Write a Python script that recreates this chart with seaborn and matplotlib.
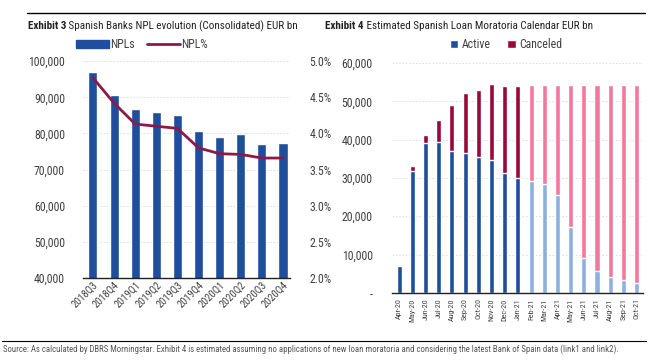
import matplotlib
matplotlib.use("Agg")
import matplotlib.pyplot as plt
import matplotlib.ticker as mticker
from matplotlib.patches import Patch
from matplotlib.lines import Line2D
import seaborn as sns

# ------------------------------------------------------------
# Data
# ------------------------------------------------------------
quarters = ["2018Q3", "2018Q4", "2019Q1", "2019Q2", "2019Q3",
            "2019Q4", "2020Q1", "2020Q2", "2020Q3", "2020Q4"]
npls = [96900, 90600, 86650, 85900, 85000, 80600, 78900, 79800, 77100, 77300]
npl_pct = [4.77, 4.42, 4.13, 4.10, 4.07, 3.80, 3.72, 3.71, 3.66, 3.66]

months = ["Apr-20", "May-20", "Jun-20", "Jul-20", "Aug-20", "Sep-20", "Oct-20",
          "Nov-20", "Dec-20", "Jan-21", "Feb-21", "Mar-21", "Apr-21", "May-21",
          "Jun-21", "Jul-21", "Aug-21", "Sep-21", "Oct-21"]
active = [7050, 31800, 39000, 39300, 37100, 36400, 35500, 34650, 31200, 29900,
          29150, 28400, 25500, 17200, 9150, 5700, 4200, 3250, 2450]
total = [7050, 33000, 41200, 45100, 49000, 52100, 53000, 54500, 54100, 54100,
         54150, 54150, 54150, 54150, 54150, 54150, 54150, 54150, 54150]
n_actual = 10  # Apr-20 .. Jan-21 actual, then estimated

BLUE = "#1F4E9C"
LIGHT_BLUE = "#8EB0E0"
RED = "#98083A"
PINK = "#F4789E"
LINE_RED = "#8B1A4A"
TXT = "#404040"

sns.set_theme(style="white")
plt.rcParams["font.family"] = ["Roboto Condensed", "DejaVu Sans"]

fig = plt.figure(figsize=(6.59, 3.62), dpi=100)

# ------------------------------------------------------------
# Exhibit 3
# ------------------------------------------------------------
ax1 = fig.add_axes([0.126, 0.232, 0.314, 0.599])
sns.barplot(x=quarters, y=npls, color=BLUE, width=0.43, saturation=1, ax=ax1)
ax1.set_ylim(40000, 100000)
ax1.set_xlim(-0.47, 9.33)
ax1.yaxis.set_major_locator(mticker.MultipleLocator(10000))
ax1.yaxis.set_major_formatter(mticker.FuncFormatter(lambda v, p: f"{v:,.0f}"))
ax1.grid(axis="y", color="#D9D9D9", linestyle=(0, (2, 2)), linewidth=0.6)
ax1.set_axisbelow(True)
for s in ["top", "left", "right"]:
    ax1.spines[s].set_visible(False)
ax1.spines["bottom"].set_color("#222222")
ax1.spines["bottom"].set_linewidth(1.0)
ax1.tick_params(axis="y", labelsize=8.5, colors=TXT, length=0, pad=13)
ax1.tick_params(axis="x", labelsize=7.5, colors=TXT, length=0, pad=1)
plt.setp(ax1.get_xticklabels(), rotation=45, ha="right", rotation_mode="anchor")

ax1b = ax1.twinx()
sns.lineplot(x=list(range(len(quarters))), y=npl_pct, color=LINE_RED, linewidth=2, ax=ax1b)
ax1b.set_ylim(2.0, 5.0)
ax1b.yaxis.set_major_locator(mticker.MultipleLocator(0.5))
ax1b.yaxis.set_major_formatter(mticker.FuncFormatter(lambda v, p: f"{v:.1f}%"))
for s in ["top", "left", "right", "bottom"]:
    ax1b.spines[s].set_visible(False)
ax1b.tick_params(axis="y", labelsize=8.5, colors=TXT, length=0, pad=14)
ax1b.set_ylabel("")

h1 = [Patch(facecolor=BLUE, edgecolor=BLUE),
      Line2D([0], [0], color=LINE_RED, linewidth=2)]
fig.legend(h1, ["NPLs", "NPL%"], loc="center", bbox_to_anchor=(0.215, 0.877),
           ncol=2, frameon=False, fontsize=8.5, handlelength=2.8, handleheight=0.6,
           handletextpad=0.1, columnspacing=1.0, labelcolor=TXT)

# ------------------------------------------------------------
# Exhibit 4
# ------------------------------------------------------------
ax2 = fig.add_axes([0.595, 0.191, 0.381, 0.635])
cancel_cols = [RED] * n_actual + [PINK] * (len(months) - n_actual)
active_cols = [BLUE] * n_actual + [LIGHT_BLUE] * (len(months) - n_actual)
sns.barplot(x=months, y=total, hue=months, palette=cancel_cols, legend=False,
            width=0.38, saturation=1, ax=ax2)
sns.barplot(x=months, y=active, hue=months, palette=active_cols, legend=False,
            width=0.38, saturation=1, ax=ax2)
ax2.set_ylim(0, 60000)
ax2.set_xlim(-0.53, 18.5)
ax2.yaxis.set_major_locator(mticker.MultipleLocator(10000))
ax2.yaxis.set_major_formatter(
    mticker.FuncFormatter(lambda v, p: "-" if v == 0 else f"{v:,.0f}"))
ax2.grid(axis="y", color="#D9D9D9", linestyle=(0, (2, 2)), linewidth=0.6)
ax2.set_axisbelow(True)
for s in ["top", "left", "right"]:
    ax2.spines[s].set_visible(False)
ax2.spines["bottom"].set_color("#222222")
ax2.spines["bottom"].set_linewidth(1.0)
ax2.tick_params(axis="y", labelsize=8.5, colors=TXT, length=0, pad=14)
ax2.tick_params(axis="x", labelsize=5.8, colors=TXT, length=0, pad=4)
plt.setp(ax2.get_xticklabels(), rotation=90)

h2 = [Patch(facecolor=BLUE), Patch(facecolor=RED)]
fig.legend(h2, ["Active", "Canceled"], loc="center", bbox_to_anchor=(0.768, 0.877),
           ncol=2, frameon=False, fontsize=8.5, handlelength=0.7, handleheight=0.7,
           handletextpad=0.3, columnspacing=1.4, labelcolor=TXT)

# ------------------------------------------------------------
# Titles, rules and source
# ------------------------------------------------------------
fig.add_artist(Line2D([27 / 659, 645 / 659], [1 - 13 / 362] * 2, color="black", linewidth=1.0))
fig.add_artist(Line2D([2 / 659, 646 / 659], [1 - 341 / 362] * 2, color="black", linewidth=0.8))

fig.canvas.draw()
renderer = fig.canvas.get_renderer()
for x0, bold, rest in [(28, "Exhibit 3", " Spanish Banks NPL evolution (Consolidated) EUR bn"),
                       (325, "Exhibit 4", " Estimated Spanish Loan Moratoria Calendar EUR bn")]:
    t = fig.text(x0 / 659, 1 - 26 / 362, bold, fontsize=8, fontweight="bold",
                 color="#222222", va="center")
    bb = t.get_window_extent(renderer)
    fig.text(bb.x1 / fig.bbox.width, 1 - 26 / 362, rest, fontsize=8,
             color="#222222", va="center")

fig.text(3 / 659, 1 - 349 / 362,
         "Source: As calculated by DBRS Morningstar. Exhibit 4 is estimated assuming no "
         "applications of new loan moratoria and considering the latest Bank of Spain data "
         "(link1 and link2).", fontsize=6.3, color="#555555", va="center")

fig.savefig("out.png", dpi=100)
